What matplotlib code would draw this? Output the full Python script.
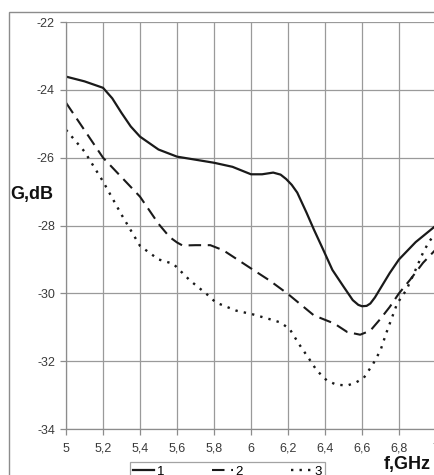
import numpy as np
import matplotlib
matplotlib.use('Agg')
import matplotlib.pyplot as plt
from matplotlib.patches import Rectangle
from matplotlib.ticker import FuncFormatter, MultipleLocator

# curve 1 (solid)
f1 = [5.0, 5.1, 5.2, 5.25, 5.3, 5.35, 5.4, 5.5, 5.6, 5.7, 5.8, 5.9, 6.0,
      6.06, 6.12, 6.16, 6.19, 6.22, 6.25, 6.3, 6.34, 6.39, 6.44, 6.5,
      6.55, 6.58, 6.6, 6.625, 6.645, 6.67, 6.7, 6.75, 6.8, 6.89, 7.0]
g1 = [-23.61, -23.75, -23.94, -24.25, -24.68, -25.08, -25.38, -25.76,
      -25.97, -26.06, -26.15, -26.27, -26.49, -26.49, -26.44, -26.5,
      -26.63, -26.8, -27.03, -27.62, -28.12, -28.71, -29.31, -29.8,
      -30.2, -30.34, -30.38, -30.37, -30.3, -30.12, -29.85, -29.4,
      -29.0, -28.49, -28.0]

# curve 2 (dashed)
f2 = [5.0, 5.2, 5.4, 5.5, 5.56, 5.6, 5.63, 5.7, 5.78, 5.85, 5.99, 6.1,
      6.2, 6.34, 6.45, 6.52, 6.59, 6.645, 6.7, 6.75, 6.8, 6.86, 6.93, 7.0]
g2 = [-24.38, -26.0, -27.15, -27.95, -28.34, -28.5, -28.59, -28.58,
      -28.58, -28.73, -29.23, -29.62, -30.02, -30.65, -30.89, -31.14,
      -31.22, -31.1, -30.75, -30.4, -30.0, -29.6, -29.1, -28.7]

# curve 3 (dotted)
f3 = [5.0, 5.1, 5.2, 5.3, 5.4, 5.5, 5.58, 5.67, 5.76, 5.81, 5.92, 6.01,
      6.1, 6.16, 6.21, 6.26, 6.32, 6.355, 6.41, 6.46, 6.52, 6.57, 6.61,
      6.66, 6.7, 6.73, 6.79, 6.84, 6.89, 6.93, 6.96, 7.0]
g3 = [-25.18, -25.82, -26.7, -27.68, -28.6, -29.0, -29.13, -29.62,
      -30.02, -30.27, -30.51, -30.62, -30.76, -30.86, -31.06, -31.5,
      -31.98, -32.27, -32.57, -32.69, -32.72, -32.62, -32.49, -32.08,
      -31.68, -31.19, -30.3, -29.9, -29.3, -28.8, -28.5, -28.2]

labels = ['1', '2', '3']

plt.rcParams['font.family'] = ['Liberation Sans', 'DejaVu Sans']

W, H = 435, 475
fig = plt.figure(figsize=(W/100, H/100), dpi=100)
ax = fig.add_axes([66/W, 1-429/H, 370/W, 407/H])

# outer chart frame
fig.patches.append(Rectangle((9/W, -0.1), 1.2, 1-12/H+0.1, transform=fig.transFigure,
                             fill=False, ec='#8c8c8c', lw=1.0))

ax.plot(f1, g1, color='#1a1a1a', lw=1.6, ls='-', label=labels[0])
ax.plot(f2, g2, color='#1a1a1a', lw=1.5, ls=(0, (6, 3.2)), label=labels[1])
ax.plot(f3, g3, color='#1a1a1a', lw=1.7, ls=(0, (1, 2.6)), label=labels[2])

ax.set_xlim(5, 7)
ax.set_ylim(-34, -22)
ax.xaxis.set_major_locator(MultipleLocator(0.2))
ax.yaxis.set_major_locator(MultipleLocator(2))
fmt = FuncFormatter(lambda v, p: ('%g' % round(v, 2)).replace('.', ','))
ax.xaxis.set_major_formatter(fmt)
ax.yaxis.set_major_formatter(fmt)
ax.grid(True, color='#9a9a9a', lw=0.9)
ax.set_axisbelow(True)
for s in ['top', 'right']:
    ax.spines[s].set_visible(False)
for s in ['left', 'bottom']:
    ax.spines[s].set_color('#8c8c8c')
    ax.spines[s].set_linewidth(0.9)
ax.tick_params(axis='both', colors='#8c8c8c', labelcolor='#3a3a3a',
               labelsize=9, length=4, width=0.9, direction='out')
ax.tick_params(axis='x', pad=6)
ax.tick_params(axis='y', pad=4)

fig.text(10/W, 1-195/H, 'G,dB', fontsize=13, fontweight='bold',
         ha='left', va='center', color='#111111')
fig.text(384/W, 1-465/H, 'f,GHz', fontsize=13, fontweight='bold',
         ha='left', va='center', color='#111111')

leg = fig.legend(loc='upper left', bbox_to_anchor=(130/W, 1-462/H), ncol=3,
                 frameon=True, fancybox=False, fontsize=9.5, handlelength=1.6,
                 handletextpad=0.2, columnspacing=3.6, borderpad=0.25,
                 borderaxespad=0)
leg.get_frame().set_edgecolor('#8c8c8c')
leg.get_frame().set_linewidth(0.9)

fig.savefig('out.png', dpi=100)
